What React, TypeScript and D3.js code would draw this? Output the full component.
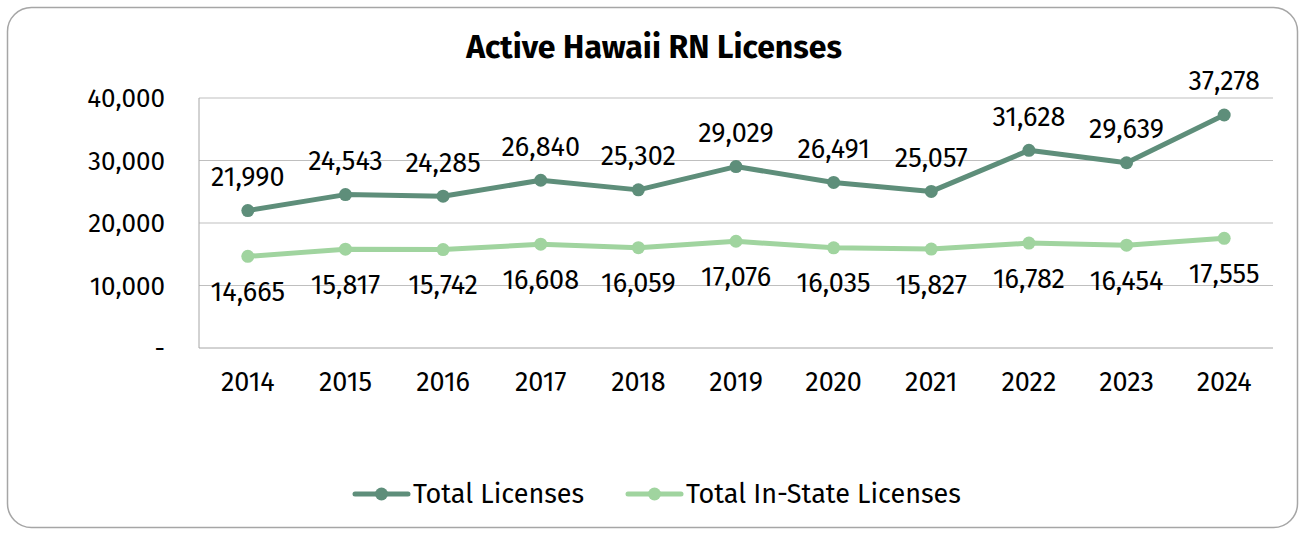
import React from "react";
import * as d3 from "d3";

const years = ["2014","2015","2016","2017","2018","2019","2020","2021","2022","2023","2024"];
const totalLicenses = [21990,24543,24285,26840,25302,29029,26491,25057,31628,29639,37278];
const inStateLicenses = [14665,15817,15742,16608,16059,17076,16035,15827,16782,16454,17555];
const yTicks = [0,10000,20000,30000,40000];
const seriesNames = ["Total Licenses","Total In-State Licenses"];

const W = 1305, H = 534;
const FONT = "'Fira Sans', 'Noto Sans', 'Open Sans', sans-serif";
const DARK = "#5e8e7a";
const LIGHT = "#a0d49f";

export default function App() {
  const left = 199, right = 1273, top = 98, bottom = 348;
  const x = d3.scaleBand<string>().domain(years).range([left, right]);
  const y = d3.scaleLinear().domain([0, 40000]).range([bottom, top]);
  const cx = (d: string) => (x(d) as number) + x.bandwidth() / 2;
  const fmt = d3.format(",");
  const line = d3.line<number>().x((_, i) => cx(years[i])).y(v => y(v));

  const series = [
    { name: seriesNames[0], data: totalLicenses, color: DARK, above: true },
    { name: seriesNames[1], data: inStateLicenses, color: LIGHT, above: false },
  ];

  const legendItems = [
    { name: seriesNames[0], color: DARK, x0: 355 },
    { name: seriesNames[1], color: LIGHT, x0: 628 },
  ];

  return (
    <svg width={W} height={H} style={{ position: "absolute", left: 0, top: 0, background: "#fff" }}>
      <rect x={7.5} y={7.5} width={1290} height={520} rx={24} ry={24} fill="#fff" stroke="#a6a6a6" strokeWidth={1.5} />
      <text x={654} y={58} textAnchor="middle" fontFamily={FONT} fontWeight={700} fontSize={32} fill="#000">
        Active Hawaii RN Licenses
      </text>
      {yTicks.map(t => (
        <g key={t}>
          {t > 0 && <line x1={left} x2={right} y1={y(t)} y2={y(t)} stroke="#bfbfbf" strokeWidth={1} />}
          <text x={165} y={y(t)} dy="0.35em" textAnchor="end" fontFamily={FONT} fontSize={26} fill="#000">
            {t === 0 ? "-" : fmt(t)}
          </text>
        </g>
      ))}
      <line x1={left} x2={right} y1={bottom} y2={bottom} stroke="#a6a6a6" strokeWidth={1} />
      <line x1={left} x2={left} y1={top} y2={bottom} stroke="#a6a6a6" strokeWidth={1} />
      {years.map(yr => (
        <text key={yr} x={cx(yr)} y={382} dy="0.35em" textAnchor="middle" fontFamily={FONT} fontSize={27} fill="#000">
          {yr}
        </text>
      ))}
      {series.map(s => (
        <g key={s.name}>
          <path d={line(s.data) || ""} fill="none" stroke={s.color} strokeWidth={5} strokeLinejoin="round" />
          {s.data.map((v, i) => (
            <circle key={i} cx={cx(years[i])} cy={y(v)} r={6.5} fill={s.color} />
          ))}
          {s.data.map((v, i) => (
            <text key={"l" + i} x={cx(years[i])} y={y(v) + (s.above ? -34 : 35)} dy="0.35em" textAnchor="middle"
              fontFamily={FONT} fontSize={27} fill="#000">
              {fmt(v)}
            </text>
          ))}
        </g>
      ))}
      {legendItems.map(l => (
        <g key={l.name}>
          <line x1={l.x0} x2={l.x0 + 53} y1={494} y2={494} stroke={l.color} strokeWidth={5} strokeLinecap="round" />
          <circle cx={l.x0 + 26.5} cy={494} r={6.5} fill={l.color} />
          <text x={l.x0 + 58} y={494} dy="0.35em" fontFamily={FONT} fontSize={27} fill="#000">{l.name}</text>
        </g>
      ))}
    </svg>
  );
}
